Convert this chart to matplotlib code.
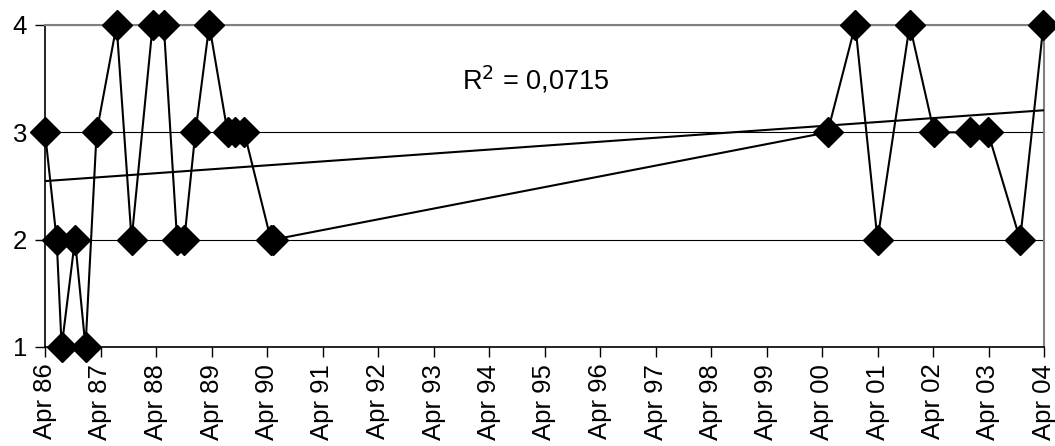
import numpy as np
import matplotlib
matplotlib.use("Agg")
import matplotlib.pyplot as plt

# Data: years since Apr 1986, and values
x_years = [0.00, 0.21, 0.30, 0.54, 0.73, 0.93, 1.29, 1.56, 1.94, 2.14,
           2.38, 2.51, 2.71, 2.96, 3.29, 3.43, 3.59, 4.07, 4.11,
           14.10, 14.60, 15.00, 15.58, 16.02, 16.67, 16.99, 17.57, 17.99]
values = [3, 2, 1, 2, 1, 3, 4, 2, 4, 4,
          2, 2, 3, 4, 3, 3, 3, 2, 2,
          3, 4, 2, 4, 3, 3, 3, 2, 4]
tick_labels = ["Apr 86", "Apr 87", "Apr 88", "Apr 89", "Apr 90", "Apr 91",
               "Apr 92", "Apr 93", "Apr 94", "Apr 95", "Apr 96", "Apr 97",
               "Apr 98", "Apr 99", "Apr 00", "Apr 01", "Apr 02", "Apr 03",
               "Apr 04"]
r2_text = "R$^2$ = 0,0715"

plt.rcParams['font.family'] = ['Liberation Sans', 'DejaVu Sans']

fig = plt.figure(figsize=(10.55, 4.46), dpi=100)
ax = fig.add_axes([45/1055, 1-347/446, (1044-45)/1055, (347-25)/446])

x = np.array(x_years)
y = np.array(values)
slope, intercept = np.polyfit(x, y, 1)
xt = np.array([x.min(), x.max()])
ax.plot(xt, slope*xt + intercept, color='black', lw=1.5, zorder=3)

ax.plot(x, y, color='black', lw=1.5, marker='D', markersize=15,
        markerfacecolor='black', markeredgecolor='black', zorder=4,
        clip_on=False)

ax.set_xlim(0, 18)
ax.set_ylim(1, 4)
ax.set_yticks([1, 2, 3, 4])
ax.set_xticks(np.arange(len(tick_labels)))
ax.set_xticklabels(tick_labels, rotation=90, fontsize=18.5)
ax.tick_params(axis='y', labelsize=18.5, length=7, width=1, pad=6)
ax.tick_params(axis='x', length=7, width=1, pad=5)
ax.yaxis.grid(True, color='black', lw=0.8)
ax.set_axisbelow(True)

for s in ['top', 'right']:
    ax.spines[s].set_color('#808080')
    ax.spines[s].set_linewidth(1.5)
for s in ['left', 'bottom']:
    ax.spines[s].set_color('black')
    ax.spines[s].set_linewidth(1.2)

ax.text(0.417, 0.83, r2_text, transform=ax.transAxes, fontsize=19.5,
        ha='left', va='center')

fig.savefig("out.png", dpi=100)
